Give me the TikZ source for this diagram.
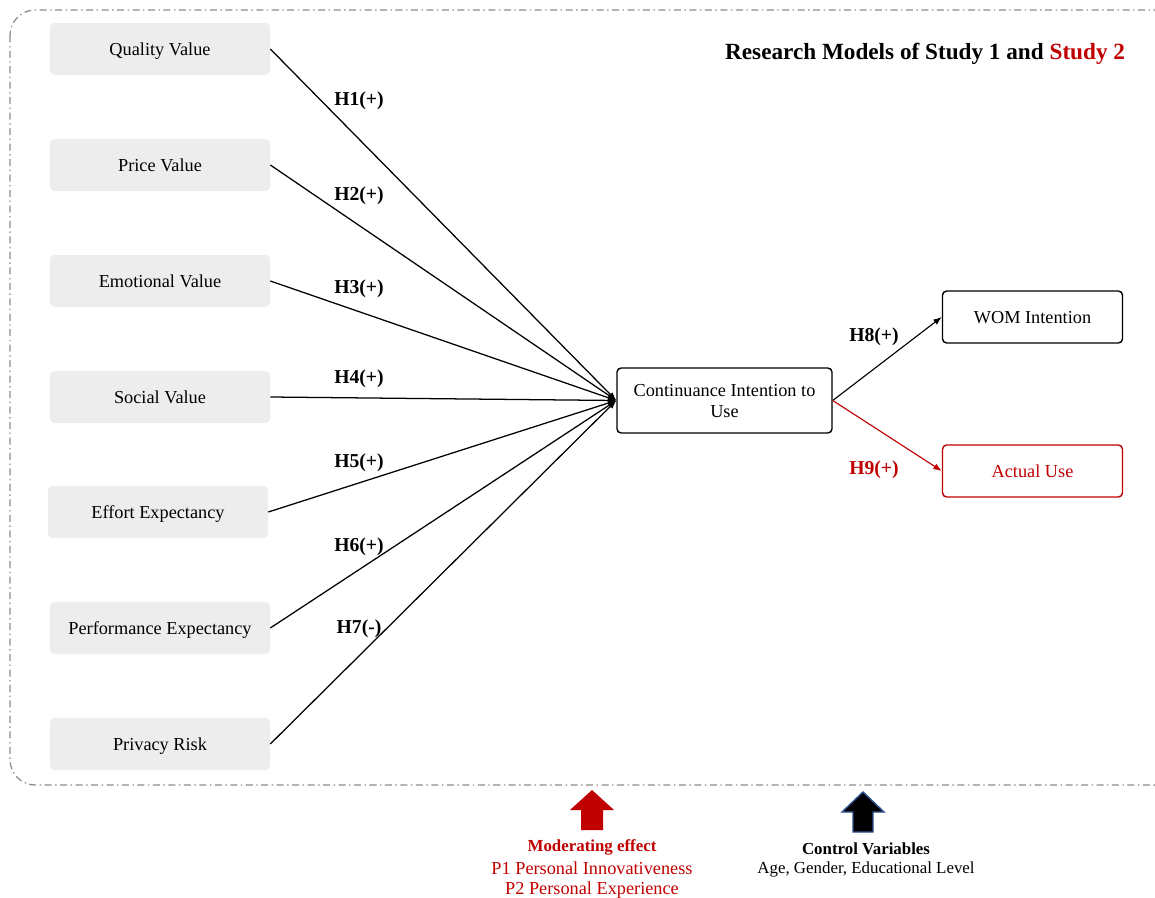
\documentclass[tikz,border=0pt]{standalone}
\usepackage{fontspec}
\setmainfont{Liberation Serif}
\usetikzlibrary{arrows.meta}
\definecolor{darkred}{HTML}{C00000}
\definecolor{boxgray}{HTML}{EDEDED}
\definecolor{framegray}{HTML}{8C8C8C}
\definecolor{outlineblue}{HTML}{2F528F}
\newcommand{\lowered}[1]{\raisebox{-1.5pt}[0.7em][0.22em]{#1}}
\begin{document}
\begin{tikzpicture}[x=0.025cm, y=-0.025cm,
  every node/.style={font=\fontsize{13}{15.5}\selectfont},
  factor/.style={fill=boxgray, rounded corners=3pt, minimum width=5.5cm, minimum height=1.3cm,
    text height=0.88em, text depth=0pt},
  outcome/.style={draw, line width=1pt, rounded corners=3pt, minimum width=4.5cm, minimum height=1.3cm,
    text height=0.88em, text depth=0pt},
  hyp/.style={font=\fontsize{14}{16}\selectfont\bfseries},
  link/.style={-{Latex[length=6pt,width=4.5pt]}, line width=0.9pt}]
  \useasboundingbox (0,0) rectangle (1155,898);
  \draw[framegray, line width=0.9pt, dash pattern=on 5pt off 2.5pt on 1pt off 2.5pt,
    rounded corners=18pt] (10,10) rectangle (1185,785);

  % title
  \node[anchor=east, font=\fontsize{16.5}{19}\selectfont\bfseries] (title) at (1130,53.5)
    {Research Models of Study 1 and \textcolor{darkred}{Study 2}};

  % antecedents
  \node[factor] (quality) at (160,49) {Quality Value};
  \node[factor] (price) at (160,165) {Price Value};
  \node[factor] (emotional) at (160,281) {Emotional Value};
  \node[factor] (social) at (160,397) {Social Value};
  \node[factor] (effort) at (158,512) {Effort Expectancy};
  \node[factor] (performance) at (160,628) {Performance Expectancy};
  \node[factor] (privacy) at (160,744) {Privacy Risk};

  % outcomes
  \node[draw, line width=1pt, rounded corners=3pt, minimum width=5.375cm, minimum height=1.625cm,
    align=center] (intention) at (724.5,400.5) {\lowered{Continuance Intention to}\\\lowered{Use}};
  \node[outcome] (wom) at (1032.5,317) {WOM Intention};
  \node[outcome, draw=darkred, text=darkred] (actual) at (1032.5,471) {Actual Use};

  % paths
  \draw[link] (quality.east) -- (intention.west);
  \draw[link] (price.east) -- (intention.west);
  \draw[link] (emotional.east) -- (intention.west);
  \draw[link] (social.east) -- (intention.west);
  \draw[link] (effort.east) -- (intention.west);
  \draw[link] (performance.east) -- (intention.west);
  \draw[link] (privacy.east) -- (intention.west);
  \draw[link, line width=0.8pt] (intention.east) -- (wom.west);
  \draw[link, line width=0.8pt, darkred] (intention.east) -- (actual.west);

  % hypotheses
  \node[hyp] (h1) at (359,100.5) {H1(+)};
  \node[hyp] (h2) at (359,195.5) {H2(+)};
  \node[hyp] (h3) at (359,288.5) {H3(+)};
  \node[hyp] (h4) at (359,378.5) {H4(+)};
  \node[hyp] (h5) at (359,462.5) {H5(+)};
  \node[hyp] (h6) at (359,546.5) {H6(+)};
  \node[hyp] (h7) at (359,628.5) {H7(-)};
  \node[hyp] (h8) at (874,336.5) {H8(+)};
  \node[hyp, text=darkred] (h9) at (874,469.5) {H9(+)};

  % moderator and controls
  \fill[darkred] (592,790) -- (614,810) -- (603,810) -- (603,830) -- (581,830)
    -- (581,810) -- (570,810) -- cycle;
  \filldraw[fill=black, draw=outlineblue, line width=1pt] (863,792) -- (884,812)
    -- (873,812) -- (873,832) -- (853,832) -- (853,812) -- (842,812) -- cycle;
  \node[text=darkred, font=\fontsize{12}{14}\selectfont\bfseries] (moderating) at (592,847) {Moderating effect};
  \node[text=darkred] (p1) at (592,868) {P1 Personal Innovativeness};
  \node[text=darkred] (p2) at (592,890) {P2 Personal Experience};
  \node[font=\fontsize{12}{14}\selectfont\bfseries] (control) at (866,849) {Control Variables};
  \node[font=\fontsize{12}{14}\selectfont] (covariates) at (866,869) {Age, Gender, Educational Level};
\end{tikzpicture}
\end{document}
